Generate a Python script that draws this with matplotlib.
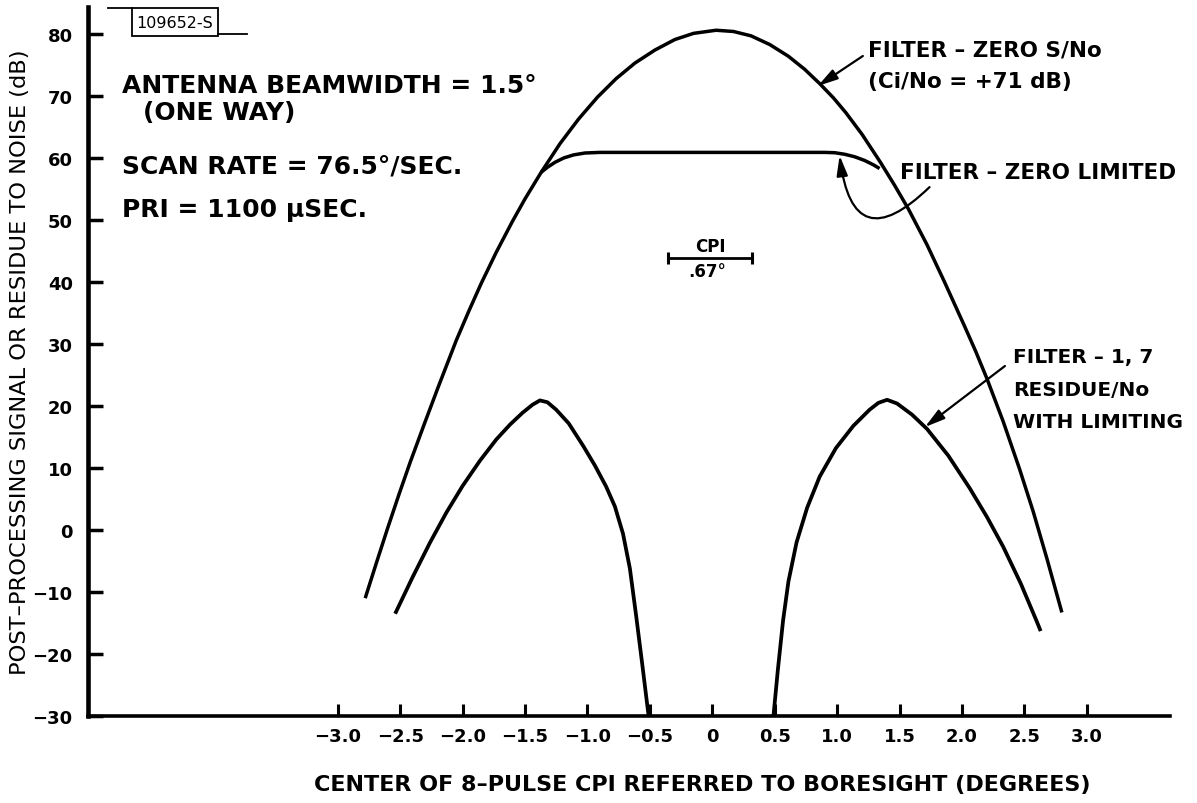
import matplotlib
matplotlib.use("Agg")
import matplotlib.pyplot as plt
from matplotlib.transforms import Affine2D
from matplotlib.patches import Rectangle
from matplotlib.lines import Line2D

# ---------------- data ----------------
main_x = [-2.78, -2.69, -2.6, -2.51, -2.42, -2.31, -2.2, -2.05, -1.95, -1.85,
          -1.73, -1.6, -1.5, -1.37, -1.22, -1.07, -0.92, -0.77, -0.62, -0.46,
          -0.3, -0.15, 0.03, 0.17, 0.31, 0.46, 0.61, 0.74, 0.86, 0.97, 1.07,
          1.2, 1.35, 1.46, 1.57, 1.72, 1.86, 2.02, 2.11, 2.2, 2.33, 2.46,
          2.57, 2.68, 2.8]
main_y = [-11.0, -5.3, 0.3, 5.7, 10.9, 16.9, 22.8, 30.6, 35.3, 39.8,
          44.8, 49.8, 53.4, 57.7, 62.3, 66.3, 69.8, 72.8, 75.3, 77.4,
          79.1, 80.1, 80.6, 80.4, 79.7, 78.3, 76.4, 74.3, 72.0, 69.7, 67.3,
          63.8, 59.2, 55.6, 51.8, 46.0, 40.0, 32.9, 28.8, 24.4, 17.5, 9.9,
          3.0, -4.6, -13.3]

limited_x = [-1.37, -1.32, -1.26, -1.19, -1.11, -1.02, -0.9, 0.9, 0.98, 1.06,
             1.14, 1.22, 1.29, 1.34]
limited_y = [57.7, 58.5, 59.3, 60.0, 60.5, 60.8, 60.9, 60.9, 60.85, 60.6,
             60.2, 59.6, 58.9, 58.3]

res_left_x = [-2.54, -2.4, -2.26, -2.13, -2.0, -1.86, -1.73, -1.62, -1.52, -1.44,
              -1.38, -1.32, -1.25, -1.15, -1.035, -0.94, -0.85, -0.78, -0.715,
              -0.66, -0.61, -0.56, -0.51]
res_left_y = [-13.5, -7.6, -2.0, 2.8, 7.1, 11.2, 14.6, 17.0, 18.9, 20.2,
              20.9, 20.6, 19.4, 17.2, 13.6, 10.4, 7.0, 3.8, -0.6,
              -6.2, -13.8, -21.8, -30.0]

res_right_x = [0.49, 0.525, 0.567, 0.61, 0.675, 0.76, 0.86, 0.99, 1.13, 1.26,
               1.33, 1.40, 1.48, 1.6, 1.72, 1.89, 2.06, 2.2, 2.33, 2.47, 2.6, 2.63]
res_right_y = [-30.0, -22.6, -14.6, -8.3, -2.0, 3.6, 8.6, 13.2, 16.8, 19.4,
               20.5, 21.0, 20.4, 18.6, 16.3, 12.0, 6.8, 2.1, -2.7, -8.6, -14.8, -16.3]

x_ticks = [-3.0, -2.5, -2.0, -1.5, -1.0, -0.5, 0.0, 0.5, 1.0, 1.5, 2.0, 2.5, 3.0]
x_tick_labels = ["\u22123.0", "\u22122.5", "\u22122.0", "\u22121.5", "\u22121.0",
                 "\u22120.5", "0", "0.5", "1.0", "1.5", "2.0", "2.5", "3.0"]
y_ticks = [-30, -20, -10, 0, 10, 20, 30, 40, 50, 60, 70, 80]
y_tick_labels = ["\u221230", "\u221220", "\u221210", "0", "10", "20", "30",
                 "40", "50", "60", "70", "80"]

cpi_center = -0.02
cpi_width = 0.67
cpi_level = 43.9

# ---------------- figure ----------------
W, H = 1197, 804
fig = plt.figure(figsize=(W / 100, H / 100), dpi=100)
fig.patch.set_facecolor("white")
PX = Affine2D().scale(1.0 / W, -1.0 / H).translate(0, 1) + fig.transFigure

ax = fig.add_axes([88 / W, (H - 717) / H, (1170 - 88) / W, (717 - 8) / H])
ax.set_xlim(-5.0, 3.666)
ax.set_ylim(-30, 84.35)
for s in ("top", "right"):
    ax.spines[s].set_visible(False)
ax.spines["left"].set_linewidth(3.3)
ax.spines["bottom"].set_linewidth(2.6)

ax.set_xticks(x_ticks)
ax.set_xticklabels(x_tick_labels, fontweight="bold", fontsize=13, family="DejaVu Sans")
ax.set_yticks(y_ticks)
ax.set_yticklabels(y_tick_labels, fontweight="bold", fontsize=13, family="DejaVu Sans")
ax.tick_params(axis="x", direction="in", length=8.6, width=2.2, pad=8)
ax.tick_params(axis="y", direction="in", length=11, width=2.5, pad=11)

lc = dict(color="black", solid_joinstyle="round", solid_capstyle="butt")
ax.plot(main_x, main_y, lw=2.5, **lc)
ax.plot(limited_x, limited_y, lw=2.5, **lc)
ax.plot(res_left_x, res_left_y, lw=2.7, **lc)
ax.plot(res_right_x, res_right_y, lw=2.7, **lc)

# CPI scale bar
ax.plot([cpi_center - cpi_width / 2, cpi_center + cpi_width / 2], [cpi_level, cpi_level],
        color="black", lw=2.0, marker="|", markersize=9, mew=2.2)
fig.text(710, 247, "CPI", transform=PX, ha="center", va="center",
         fontsize=12, fontweight="bold", family="DejaVu Sans")
fig.text(707, 272, ".67\u00b0", transform=PX, ha="center", va="center",
         fontsize=12, fontweight="bold", family="DejaVu Sans")

# axis labels
ax.set_ylabel("POST\u2013PROCESSING SIGNAL OR RESIDUE TO NOISE (dB)",
              fontsize=16.2, family="DejaVu Sans")
ax.yaxis.label.set_va("center")
ax.yaxis.set_label_coords((20 - 88) / 1082, (717 - 362) / 709)
ax.set_xlabel("CENTER OF 8\u2013PULSE CPI REFERRED TO BORESIGHT (DEGREES)",
              fontsize=16, fontweight="bold", family="DejaVu Sans")
ax.xaxis.label.set_va("center")
ax.xaxis.set_label_coords((702 - 88) / 1082, (717 - 785) / 709)

# left-hand notes
note_kw = dict(transform=PX, ha="left", va="center", fontsize=18,
               fontweight="bold", family="DejaVu Sans")
fig.text(122, 86, "ANTENNA BEAMWIDTH = 1.5\u00b0", **note_kw)
fig.text(143, 113, "(ONE WAY)", **note_kw)
fig.text(122, 166, "SCAN RATE = 76.5\u00b0/SEC.", **note_kw)
fig.text(122, 210, "PRI = 1100 \u03bcSEC.", **note_kw)

# right-hand callouts
call_kw = dict(transform=PX, ha="left", va="center", fontsize=15.5,
               fontweight="bold", family="DejaVu Sans")
fig.text(868, 50, "FILTER \u2013 ZERO S/No", **call_kw)
fig.text(868, 82, "(Ci/No = +71 dB)", **call_kw)
fig.text(900, 173, "FILTER \u2013 ZERO LIMITED", **call_kw)
res_kw = dict(call_kw, fontsize=14.5)
fig.text(1013, 358, "FILTER \u2013 1, 7", **res_kw)
fig.text(1013, 391, "RESIDUE/No", **res_kw)
fig.text(1013, 423, "WITH LIMITING", **res_kw)

arrow_kw = dict(arrowstyle="-|>,head_length=0.8,head_width=0.22", mutation_scale=15,
                lw=1.6, color="black", shrinkA=0, shrinkB=0)
ax.annotate("", xy=(0.845, 71.6), xytext=(1.206, 76.45), arrowprops=arrow_kw)
ax.annotate("", xy=(1.703, 16.6), xytext=(2.344, 26.45), arrowprops=arrow_kw)
ax.annotate("", xy=(1.02, 60.4), xytext=(1.74, 55.3),
            arrowprops=dict(arrow_kw, connectionstyle="arc3,rad=-1.0"))

# document stamp
fig.add_artist(Line2D([108, 132], [9, 9], transform=PX, color="black", lw=1.3))
fig.add_artist(Rectangle((132, 9), 86, 28, transform=PX, fill=False,
                         edgecolor="black", lw=1.3))
fig.add_artist(Line2D([218, 247], [35, 35], transform=PX, color="black", lw=1.3))
fig.text(175, 23, "109652-S", transform=PX, ha="center", va="center", fontsize=11.5,
         family=["Liberation Sans Narrow", "DejaVu Sans"])

fig.savefig("out.png", dpi=100)
